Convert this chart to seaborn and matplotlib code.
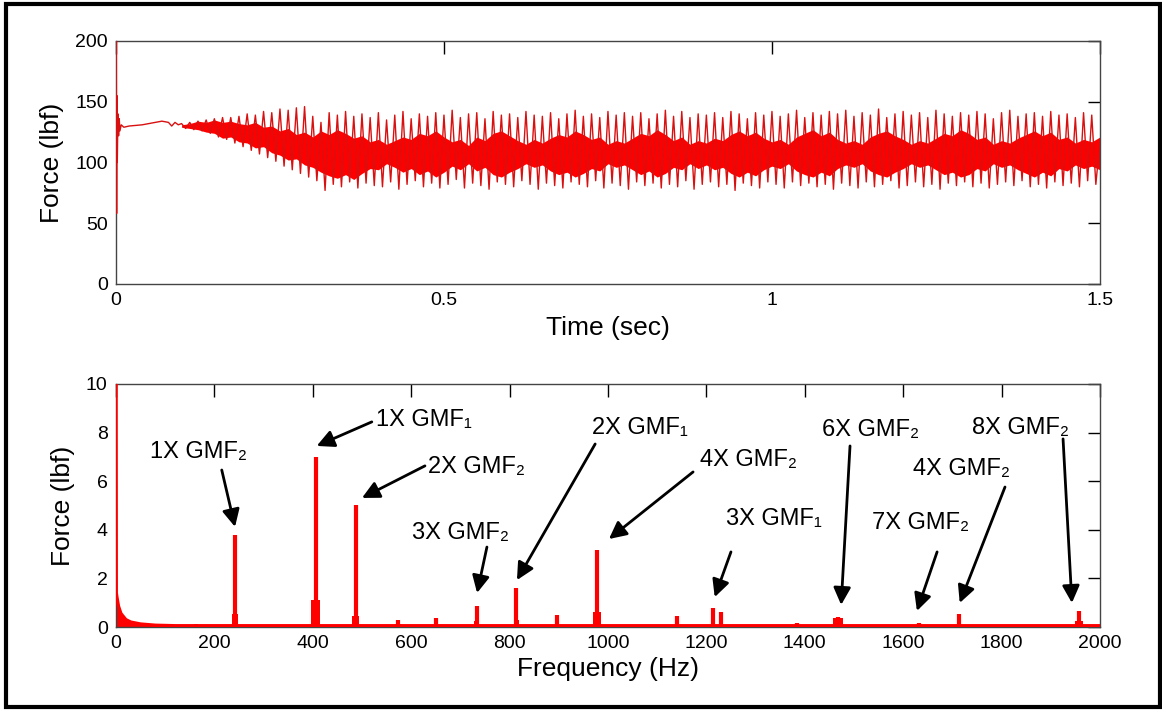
import numpy as np
import matplotlib
matplotlib.use("Agg")
import matplotlib.pyplot as plt
import seaborn as sns
from matplotlib.patches import Rectangle

# ---------------- data: time signal ----------------
init_t = [0.0, 0.0005, 0.001, 0.0015, 0.002, 0.003, 0.004, 0.005, 0.006, 0.008,
          0.012, 0.02, 0.04, 0.06, 0.07, 0.08, 0.085, 0.09, 0.095]
init_f = [130, 200, 58, 155, 100, 140, 122, 136, 126, 131,
          129, 130, 131, 133, 134, 133, 130, 133, 131]

peak_t0, peak_dt = 0.1, 0.0125
peaks = [132, 133, 134, 135, 136, 137, 137, 138,
         140, 139, 142, 141, 144, 143, 145, 146,
         138, 133, 141, 139, 142, 138, 140, 137,
         141, 135, 139, 142, 136, 140, 138, 141,
         139, 143, 137, 140, 141, 136, 142, 139,
         140, 137, 142, 139, 138, 141, 136, 140,
         143, 138, 140, 137, 142, 139, 141, 138,
         141, 136, 140, 143, 138, 142, 137, 140,
         139, 141, 137, 142, 140, 136, 141, 139,
         142, 138, 140, 143, 137, 141, 139, 142,
         140, 143, 138, 141, 139, 144, 137, 140,
         142, 139, 141, 137, 143, 140, 138, 141,
         139, 142, 140, 136, 141, 143, 138, 140,
         141, 138, 142, 139, 140, 137, 141, 139,
         118]
troughs = [128, 127, 126, 124, 121, 119, 116, 113,
           110, 107, 104, 101, 97, 94, 91, 88,
           85, 77, 82, 80, 84, 79, 83, 81,
           80, 84, 78, 82, 85, 80, 83, 79,
           82, 86, 79, 83, 81, 78, 84, 82,
           80, 85, 82, 78, 83, 81, 79, 84,
           82, 80, 85, 79, 83, 81, 78, 84,
           81, 83, 79, 82, 80, 85, 78, 82,
           84, 80, 82, 77, 83, 81, 79, 84,
           82, 79, 84, 81, 83, 80, 82, 78,
           83, 81, 79, 84, 80, 82, 85, 79,
           81, 84, 80, 82, 78, 83, 81, 84,
           80, 83, 79, 82, 84, 81, 85, 80,
           82, 79, 84, 81, 83, 80, 85, 82]

core_t0, core_dt = 0.1, 0.0125
core_hi = [131, 132, 134, 133, 135, 133, 134, 132,
           131, 133, 129, 130, 126, 128, 123, 125,
           121, 126, 123, 127, 124, 120, 122, 117,
           119, 115, 118, 121, 119, 124, 122, 126,
           121, 117, 119, 114, 121, 118, 124, 126,
           122, 118, 115, 119, 116, 120, 123, 121,
           126, 123, 119, 121, 115, 118, 116, 120,
           124, 122, 127, 123, 118, 121, 115, 118,
           116, 120, 118, 123, 126, 122, 125, 120,
           117, 119, 115, 121, 124, 127, 122, 125,
           119, 116, 118, 115, 121, 124, 126, 122,
           119, 115, 118, 116, 120, 124, 122, 127,
           124, 119, 121, 115, 118, 116, 120, 123,
           126, 122, 125, 119, 121, 116, 119, 117,
           121]
core_lo = [129, 128, 127, 125, 124, 120, 121, 117,
           116, 112, 113, 108, 106, 102, 103, 98,
           96, 92, 89, 87, 90, 86, 91, 95,
           94, 99, 96, 92, 95, 90, 93, 88,
           92, 97, 94, 99, 93, 96, 90, 88,
           92, 95, 99, 96, 98, 93, 90, 92,
           88, 91, 95, 93, 99, 96, 98, 94,
           90, 93, 88, 91, 96, 94, 99, 95,
           98, 94, 96, 91, 88, 92, 89, 94,
           97, 95, 99, 93, 90, 88, 92, 89,
           95, 98, 96, 99, 93, 90, 88, 92,
           95, 99, 96, 98, 94, 90, 92, 88,
           90, 95, 93, 99, 96, 98, 94, 91,
           88, 92, 89, 95, 93, 98, 95, 97,
           94]

# ---------------- data: spectrum ----------------
low_f = [0, 0.5, 2, 5, 10, 20, 30, 50, 80, 120, 2000]
low_a = [10.5, 1.4, 1.2, 0.85, 0.55, 0.3, 0.2, 0.12, 0.07, 0.05, 0.05]

peak_freq = [163, 242, 325, 406, 487, 573, 650, 733, 814, 896, 977, 1060,
             1140, 1214, 1230, 1305, 1385, 1467, 1632, 1713, 1880, 1957]
peak_amp = [0.12, 3.8, 0.08, 7.0, 5.0, 0.29, 0.38, 0.88, 1.6, 0.49, 3.17, 0.06,
            0.46, 0.8, 0.6, 0.08, 0.18, 0.42, 0.16, 0.53, 0.06, 0.67]
shoulder_amp = [0.05, 0.55, 0.03, 1.1, 0.45, 0.12, 0.1, 0.25, 0.3, 0.1, 0.6, 0.03,
                0.12, 0.2, 0.2, 0.03, 0.06, 0.35, 0.08, 0.1, 0.03, 0.25]
shoulder_hw = [5, 7, 5, 9, 7, 6, 4, 5, 5, 4, 8, 5, 4, 4, 4, 4, 4, 10, 8, 3, 4, 8]

labels = ["1X GMF\u2082", "1X GMF\u2081", "2X GMF\u2082", "3X GMF\u2082", "2X GMF\u2081",
          "4X GMF\u2082", "3X GMF\u2081", "6X GMF\u2082", "7X GMF\u2082", "4X GMF\u2082",
          "8X GMF\u2082"]
label_pos = [(69, 7.2), (528, 8.52), (634, 6.58), (602, 3.87), (967, 8.19),
             (1187, 6.87), (1240, 4.44), (1435, 8.11), (1537, 4.28), (1620, 6.5),
             (1740, 8.19)]
arrow_from = [(215, 6.46), (520, 8.44), (628, 6.63), (754, 3.29), (974, 7.53),
              (1173, 6.38), (1250, 3.09), (1492, 7.45), (1669, 3.09), (1807, 5.76),
              (1925, 7.74)]
arrow_to = [(242, 4.12), (408, 7.45), (500, 5.31), (734, 1.4), (815, 1.93),
            (1002, 3.62), (1217, 1.23), (1474, 0.91), (1628, 0.66), (1715, 0.99),
            (1943, 0.99)]

# ---------------- build ----------------
sns.set_theme(style="white")
plt.rcParams["font.family"] = ["Liberation Sans", "DejaVu Sans"]
plt.rcParams.update({"text.color": "black", "axes.labelcolor": "black",
                     "xtick.color": "black", "ytick.color": "black"})

sig_t = list(init_t)
sig_f = list(init_f)
for k, p in enumerate(peaks):
    sig_t.append(peak_t0 + peak_dt * k)
    sig_f.append(p)
    if k < len(troughs):
        sig_t.append(peak_t0 + peak_dt * k + peak_dt / 2)
        sig_f.append(troughs[k])
core_t = [core_t0 + core_dt * i for i in range(len(core_hi))]

fig = plt.figure(figsize=(11.62, 7.10), dpi=100)
ax1 = fig.add_axes([0.0998, 0.600, 0.8468, 0.3423])
ax2 = fig.add_axes([0.0998, 0.1169, 0.8468, 0.3423])

red = "#ff0000"
dark = "#d81010"

ax1.fill_between(core_t, core_lo, core_hi, color=red, lw=0, zorder=2)
sns.lineplot(x=sig_t, y=sig_f, ax=ax1, color=dark, lw=1.0, sort=False,
             estimator=None, zorder=3)

ax1.set_xlim(0, 1.5)
ax1.set_ylim(0, 200)
ax1.set_xticks([0, 0.5, 1, 1.5])
ax1.set_xticklabels(["0", "0.5", "1", "1.5"])
ax1.set_yticks([0, 50, 100, 150, 200])
ax1.set_xlabel("Time (sec)", fontsize=19, labelpad=5)
ax1.set_ylabel("Force (lbf)", fontsize=19, labelpad=8)

# spectrum
ax2.fill_between(low_f, 0, low_a, color=red, lw=0, zorder=2)
sns.lineplot(x=low_f, y=low_a, ax=ax2, color=red, lw=2.5, sort=False,
             estimator=None, zorder=3)
ax2.bar(peak_freq, shoulder_amp, width=[2 * w for w in shoulder_hw],
        color=red, lw=0, zorder=3)
ax2.vlines(peak_freq, 0, peak_amp, color=red, lw=3, zorder=4)

for lab, (lx, ly), (fx, fy), (tx, ty) in zip(labels, label_pos, arrow_from, arrow_to):
    ax2.text(lx, ly, lab, fontsize=17, ha="left", va="center", color="black", zorder=6)
    ax2.annotate("", xy=(tx, ty), xytext=(fx, fy),
                 arrowprops=dict(arrowstyle="-|>", color="black", lw=2,
                                 mutation_scale=26, shrinkA=0, shrinkB=0),
                 zorder=6)

ax2.set_xlim(0, 2000)
ax2.set_ylim(0, 10)
ax2.set_xticks(list(range(0, 2001, 200)))
ax2.set_yticks([0, 2, 4, 6, 8, 10])
ax2.set_xlabel("Frequency (Hz)", fontsize=19, labelpad=3)
ax2.set_ylabel("Force (lbf)", fontsize=19, labelpad=8)

for ax in (ax1, ax2):
    ax.tick_params(direction="in", top=True, right=True, length=9, width=1,
                   color="black", labelsize=14, pad=6)
    for s in ax.spines.values():
        s.set_color("#444444")
        s.set_linewidth(1.0)
    ax.grid(False)

fig.patches.append(Rectangle((0.005, 0.004), 0.993, 0.99, transform=fig.transFigure,
                             fill=False, edgecolor="black", lw=3))

fig.savefig("out.png", dpi=100, facecolor="white")
